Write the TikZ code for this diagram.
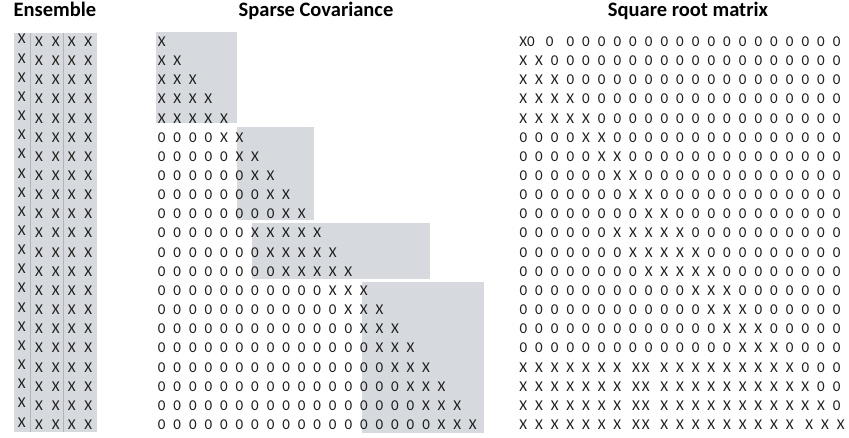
\documentclass[tikz,border=0pt]{standalone}
\usepackage{fontspec}
\setmainfont{Carlito}
\definecolor{blockgray}{RGB}{214,217,222}
\definecolor{rulegray}{RGB}{176,180,187}
\definecolor{inkgray}{RGB}{30,30,30}

\begin{document}
\begin{tikzpicture}[
                x=1pt, y=-1pt,
                entry/.style={
                    inner sep=0pt,
                    anchor=base,
                    text=inkgray,
                    font=\fontsize{15}{18}\selectfont
                },
                title/.style={
                    inner sep=0pt,
                    anchor=base,
                    font=\fontsize{20.5}{24}\selectfont\bfseries
                },
                block/.style={fill=blockgray},
                divider/.style={draw=rulegray, line width=0.8pt}
            ]
            \useasboundingbox (0,0) rectangle (849,438);

            % Headings
            \node (ens-title) [title] at (55,17) {Ensemble};
            \node (sp-title) [title] at (316,17) {Sparse Covariance};
            \node (sq-title) [title] at (688,17) {Square root matrix};

            % Ensemble
            \fill [block] (14,33) rectangle (97,432);
            \draw [divider] (30.7,33) -- (30.7,432);
            \draw [divider] (63.3,33) -- (63.3,432);
            \foreach \row in {1,...,21} {
                \pgfmathsetmacro\yb{46.5+19.15*(\row-1)}
                \node (ens-\row-1) [entry] at (21.7,\yb-2.5) {X};
                \foreach \col/\xc in {2/39,3/55.7,4/71.7,5/88.3}
                    \node (ens-\row-\col) [entry] at (\xc,\yb) {X};
            }

            % Sparse Covariance
            \fill [block] (156,32) rectangle (237,123);
            \fill [block] (237,127) rectangle (314,220);
            \fill [block] (251.7,222.7) rectangle (430,279);
            \fill [block] (362,281.7) rectangle (484,433);
            \foreach \row/\lo/\hi in {1/1/1,2/1/2,3/1/3,4/1/4,5/1/5,
                6/5/6,7/6/7,8/7/8,9/8/9,10/9/10,11/7/11,12/8/12,13/9/13,
                14/12/14,15/13/15,16/14/16,17/15/17,18/16/18,19/17/19,
                20/18/20,21/19/21} {
                \pgfmathsetmacro\yb{46.5+19.15*(\row-1)}
                \foreach \col in {1,...,\hi} {
                    \ifnum\col<\lo \def\cellval{0}\else\def\cellval{X}\fi
                    \node (sp-\row-\col) [entry] at (161.7+15.55*\col-15.55,\yb) {\cellval};
                }
            }

            % Square root matrix
            \foreach \row/\lo/\hi in {1/1/1,2/1/2,3/1/3,4/1/4,5/1/5,
                6/5/6,7/6/7,8/7/8,9/8/9,10/9/10,11/7/11,12/8/12,13/9/13,
                14/12/14,15/13/15,16/14/16,17/15/17,18/1/18,19/1/19,
                20/1/20,21/1/21} {
                \pgfmathsetmacro\yb{46.5+19.15*(\row-1)}
                \foreach \col in {1,...,21} {
                    \pgfmathsetmacro\dx{(\row==1)*((\col==2)*(-8)+(\col==3)*(-5))
                        +(\row>17)*((\col==8)*3+(\col==9)*(-3))+(\row==21)*(\col>18)*4}
                    \ifnum\col<\lo \def\cellval{0}\else
                        \ifnum\col>\hi \def\cellval{0}\else\def\cellval{X}\fi\fi
                    \node (sq-\row-\col) [entry] at (523.3+15.67*\col-15.67+\dx,\yb) {\cellval};
                }
            }

\end{tikzpicture}
\end{document}
